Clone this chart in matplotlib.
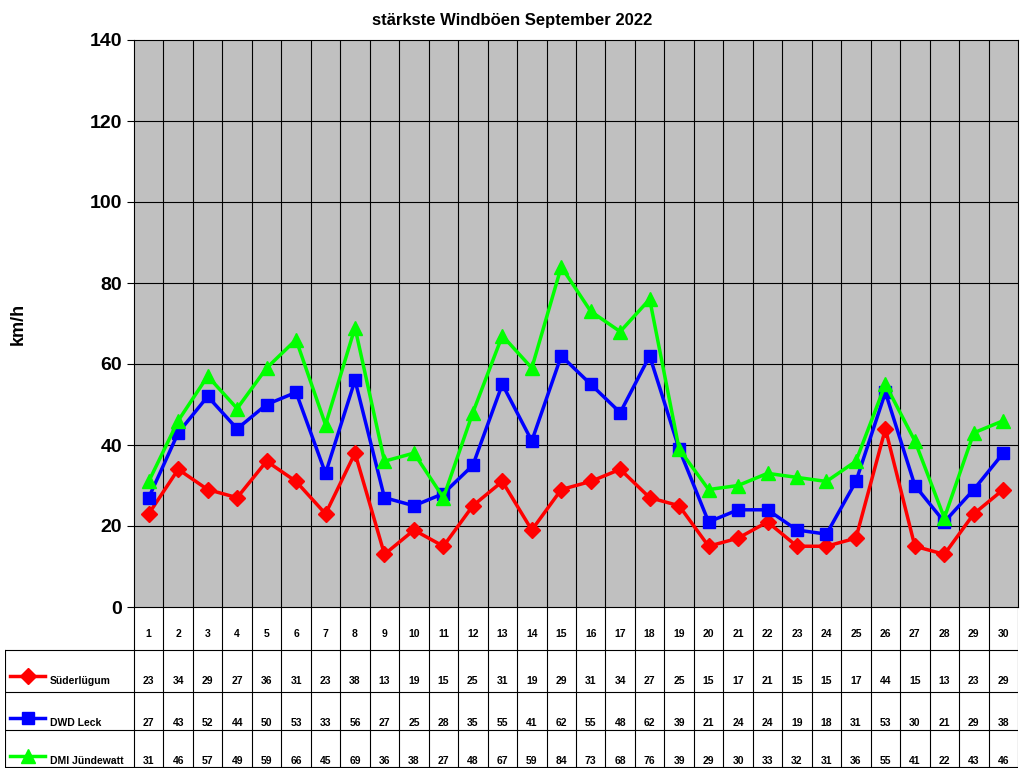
import matplotlib
matplotlib.use("Agg")
import matplotlib.pyplot as plt
import numpy as np

plt.rcParams['font.family'] = ['Liberation Sans', 'DejaVu Sans']

days = list(range(1, 31))
suederluegum = [23, 34, 29, 27, 36, 31, 23, 38, 13, 19, 15, 25, 31, 19, 29, 31, 34, 27, 25, 15, 17, 21, 15, 15, 17, 44, 15, 13, 23, 29]
dwd_leck = [27, 43, 52, 44, 50, 53, 33, 56, 27, 25, 28, 35, 55, 41, 62, 55, 48, 62, 39, 21, 24, 24, 19, 18, 31, 53, 30, 21, 29, 38]
dmi_juendewatt = [31, 46, 57, 49, 59, 66, 45, 69, 36, 38, 27, 48, 67, 59, 84, 73, 68, 76, 39, 29, 30, 33, 32, 31, 36, 55, 41, 22, 43, 46]

series = [("Süderlügum", suederluegum, "#FF0000", "D", 8),
          ("DWD Leck", dwd_leck, "#0000FF", "s", 9),
          ("DMI Jündewatt", dmi_juendewatt, "#00FF00", "^", 10)]

W, H = 1024, 768
fig = plt.figure(figsize=(W / 100, H / 100), dpi=100)
fig.patch.set_facecolor("white")

x0, x1, ytop, ybot = 134, 1018, 40, 607
ax = fig.add_axes([x0 / W, 1 - ybot / H, (x1 - x0) / W, (ybot - ytop) / H])
ax.set_facecolor("#C0C0C0")
ax.set_xlim(0.5, 30.5)
ax.set_ylim(0, 140)
for b in np.arange(1.5, 30.5, 1):
    ax.axvline(b, color="black", lw=0.8)
for g in range(20, 140, 20):
    ax.axhline(g, color="black", lw=0.8)
for name, vals, col, mk, ms in series:
    ax.plot(days, vals, color=col, lw=2.5, marker=mk, markersize=ms, zorder=3)
ax.set_xticks([])
ax.set_yticks(range(0, 141, 20))
ax.tick_params(axis="y", labelsize=14, length=5)
for lbl in ax.get_yticklabels():
    lbl.set_fontweight("bold")
for s in ax.spines.values():
    s.set_color("black")
ax.set_ylabel("km/h", fontsize=13, fontweight="bold", labelpad=45)
fig.text(0.5, 1 - 20 / H, "stärkste Windböen September 2022", ha="center", va="center",
         fontsize=12, fontweight="bold")

# data table
unit = (x1 - x0) / 30
tx0 = 5
tax = fig.add_axes([tx0 / W, 0, (x1 - tx0) / W, (H - ybot) / H])
tax.set_xlim(0.5 - (x0 - tx0) / unit, 30.5)
tax.set_ylim(H, ybot)
tax.axis("off")
rows = [ybot, 650, 692, 730, H - 1]
for b in np.arange(0.5, 31.5, 1):
    tax.plot([b, b], [ybot, H], color="black", lw=0.8)
lx = 0.5 - (x0 - tx0) / unit
for r in rows[1:]:
    tax.plot([lx, 30.5], [r, r], color="black", lw=0.8)
tax.plot([lx, lx], [650, H], color="black", lw=0.8)
for d in days:
    tax.text(d, 634, str(d), ha="center", va="center", fontsize=7.5, fontweight="bold")
for i, (name, vals, col, mk, ms) in enumerate(series):
    yy = rows[i + 1] + 31
    for d, v in zip(days, vals):
        tax.text(d, yy, str(v), ha="center", va="center", fontsize=7.5, fontweight="bold")
    xa = lx + 5 / unit
    xb = lx + 40 / unit
    tax.plot([xa, xb], [yy - 5, yy - 5], color=col, lw=2.5)
    tax.plot([(xa + xb) / 2], [yy - 5], color=col, marker=mk, markersize=ms)
    tax.text(lx + 45 / unit, yy, name, ha="left", va="center", fontsize=7.5, fontweight="bold")

fig.savefig("out.png", dpi=100)
